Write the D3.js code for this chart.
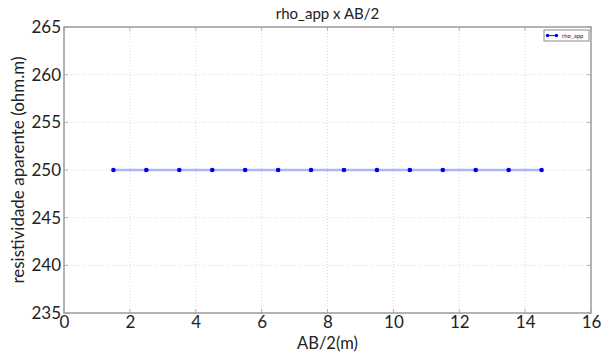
<!DOCTYPE html>
<html>
<head>
<meta charset="utf-8">
<script src="https://cdn.jsdelivr.net/npm/d3@7"></script>
<style>
  html, body { margin: 0; padding: 0; background: #fff; }
  svg { display: block; }
  text { font-family: Lato, "Open Sans", sans-serif; fill: #222; }
</style>
</head>
<body>
<script>
// Apparent resistivity versus half electrode spacing
const abHalf = [1.5, 2.5, 3.5, 4.5, 5.5, 6.5, 7.5, 8.5, 9.5, 10.5, 11.5, 12.5, 13.5, 14.5];
const rhoApp = [250, 250, 250, 250, 250, 250, 250, 250, 250, 250, 250, 250, 250, 250];
const xTicks = [0, 2, 4, 6, 8, 10, 12, 14, 16];
const yTicks = [235, 240, 245, 250, 255, 260, 265];
const seriesName = "rho_app";

const W = 601, H = 354;
const m = { left: 64, right: 10, top: 27, bottom: 41 };
const pw = W - m.left - m.right, ph = H - m.top - m.bottom;

const svg = d3.select("body").append("svg").attr("width", W).attr("height", H);

const x = d3.scaleLinear().domain([0, 16]).range([m.left, m.left + pw]);
const y = d3.scaleLinear().domain([235, 265]).range([m.top + ph, m.top]);

// dotted grid
const grid = svg.append("g");
grid.selectAll("line.gx").data(xTicks.slice(1, -1)).join("line")
  .attr("x1", d => x(d)).attr("x2", d => x(d))
  .attr("y1", m.top).attr("y2", m.top + ph)
  .attr("stroke", "#d6d6d6").attr("stroke-width", 1).attr("stroke-dasharray", "1,2");
grid.selectAll("line.gy").data(yTicks.slice(1, -1)).join("line")
  .attr("x1", m.left).attr("x2", m.left + pw)
  .attr("y1", d => y(d)).attr("y2", d => y(d))
  .attr("stroke", "#d6d6d6").attr("stroke-width", 1).attr("stroke-dasharray", "1,2");

// inward ticks on all four sides
const tickLen = 4;
const tk = svg.append("g").attr("stroke", "#b4b4b4").attr("stroke-width", 1);
xTicks.forEach(t => {
  tk.append("line").attr("x1", x(t)).attr("x2", x(t)).attr("y1", m.top + ph).attr("y2", m.top + ph - tickLen);
  tk.append("line").attr("x1", x(t)).attr("x2", x(t)).attr("y1", m.top).attr("y2", m.top + tickLen);
});
yTicks.forEach(t => {
  tk.append("line").attr("x1", m.left).attr("x2", m.left + tickLen).attr("y1", y(t)).attr("y2", y(t));
  tk.append("line").attr("x1", m.left + pw).attr("x2", m.left + pw - tickLen).attr("y1", y(t)).attr("y2", y(t));
});

// frame
svg.append("rect").attr("x", m.left).attr("y", m.top).attr("width", pw).attr("height", ph)
  .attr("fill", "none").attr("stroke", "#9a9a9a").attr("stroke-width", 1.5);

// tick labels via d3 axes
const xAxis = svg.append("g").attr("transform", `translate(0,${m.top + ph})`)
  .call(d3.axisBottom(x).tickValues(xTicks).tickSize(0).tickPadding(3).tickFormat(d3.format("d")));
const yAxis = svg.append("g").attr("transform", `translate(${m.left},0)`)
  .call(d3.axisLeft(y).tickValues(yTicks).tickSize(0).tickPadding(3).tickFormat(d3.format("d")));
[xAxis, yAxis].forEach(a => {
  a.select(".domain").remove();
  a.selectAll("text").attr("font-size", 17).attr("fill", "#1a1a1a")
    .attr("font-family", "Lato, 'Open Sans', sans-serif");
});

// series line and markers
const line = d3.line().x((d, i) => x(abHalf[i])).y(d => y(d));
svg.append("path").datum(rhoApp).attr("d", line)
  .attr("fill", "none").attr("stroke", "#b0b4fa").attr("stroke-width", 2.5);
svg.append("g").selectAll("circle").data(rhoApp).join("circle")
  .attr("cx", (d, i) => x(abHalf[i])).attr("cy", d => y(d)).attr("r", 2.3)
  .attr("fill", "#0000e0");

// title and axis labels
svg.append("text").attr("x", m.left + pw / 2).attr("y", 19).attr("text-anchor", "middle")
  .attr("font-size", 15).text("rho_app x AB/2");
svg.append("text").attr("x", m.left + pw / 2).attr("y", 349).attr("text-anchor", "middle")
  .attr("font-size", 16.5).text("AB/2(m)");
svg.append("text").attr("transform", `translate(24,${m.top + ph / 2}) rotate(-90)`)
  .attr("text-anchor", "middle").attr("font-size", 17).text("resistividade aparente (ohm.m)");

// legend
const lg = svg.append("g");
lg.append("rect").attr("x", 544).attr("y", 30).attr("width", 45).attr("height", 11)
  .attr("fill", "#fff").attr("stroke", "#8a8a8a").attr("stroke-width", 1);
lg.append("line").attr("x1", 547).attr("x2", 557).attr("y1", 35.5).attr("y2", 35.5)
  .attr("stroke", "#2a2aff").attr("stroke-width", 1.2);
[547.5, 556.5].forEach(cx => lg.append("circle").attr("cx", cx).attr("cy", 35.5).attr("r", 1.7).attr("fill", "#0000e0"));
lg.append("text").attr("x", 562).attr("y", 38).attr("font-size", 6).attr("fill", "#444").text(seriesName);
</script>
</body>
</html>
